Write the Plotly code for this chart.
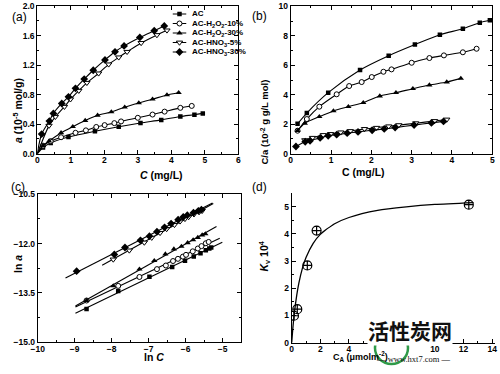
import numpy as np
import plotly.graph_objects as go

# ---------------- data ----------------
names = ["AC", "AC-H<sub>2</sub>O<sub>2</sub>-10%", "AC-H<sub>2</sub>O<sub>2</sub>-30%",
         "AC-HNO<sub>3</sub>-5%", "AC-HNO<sub>3</sub>-30%"]

# equilibrium concentration C (mg/L)
C_AC = [0.17, 0.40, 0.93, 1.72, 2.43, 3.08, 3.70, 4.27, 4.69, 4.94]
C_H10 = [0.17, 0.40, 0.71, 1.14, 1.45, 1.76, 2.01, 2.30, 2.50, 3.00, 3.44, 3.80, 4.27, 4.61]
C_H30 = [0.17, 0.35, 0.71, 1.06, 1.43, 1.80, 2.21, 2.61, 3.03, 3.44, 3.87, 4.22]
C_N5 = [0.35, 0.54, 0.81, 0.99, 1.24, 1.48, 1.83, 2.13, 2.43, 2.68, 3.10, 3.57, 3.87]
C_N30 = [0.13, 0.36, 0.48, 0.73, 0.93, 1.14, 1.40, 1.67, 2.02, 2.32, 2.59, 3.06, 3.49, 3.79]

# adsorbed amount a (1e-5 mol/g), panel (a)
a_AC = [0.084, 0.145, 0.225, 0.303, 0.365, 0.416, 0.458, 0.504, 0.528, 0.546]
a_H10 = [0.109, 0.170, 0.223, 0.283, 0.316, 0.362, 0.387, 0.414, 0.437, 0.486, 0.530, 0.570, 0.621, 0.647]
a_H30 = [0.109, 0.170, 0.283, 0.366, 0.448, 0.520, 0.565, 0.630, 0.687, 0.738, 0.796, 0.826]
a_N5 = [0.38, 0.50, 0.636, 0.737, 0.853, 0.96, 1.088, 1.21, 1.305, 1.38, 1.50, 1.607, 1.67]
a_N30 = [0.266, 0.442, 0.546, 0.68, 0.77, 0.885, 1.01, 1.13, 1.27, 1.38, 1.46, 1.575, 1.666, 1.73]

# C/a (1e-2 g g/L mol), panel (b)
Ca_AC = [2.03, 2.76, 4.14, 5.68, 6.65, 7.40, 8.07, 8.48, 8.89, 9.05]
Ca_H10 = [1.56, 2.35, 3.19, 4.03, 4.59, 4.86, 5.20, 5.56, 5.72, 6.17, 6.49, 6.67, 6.88, 7.12]
Ca_H30 = [1.56, 2.06, 2.51, 2.90, 3.19, 3.46, 3.91, 4.14, 4.41, 4.66, 4.86, 5.11]
Ca_N5 = [0.92, 1.08, 1.27, 1.34, 1.45, 1.54, 1.68, 1.76, 1.86, 1.94, 2.07, 2.22, 2.32]
Ca_N30 = [0.49, 0.81, 0.88, 1.07, 1.21, 1.29, 1.39, 1.48, 1.59, 1.68, 1.77, 1.94, 2.09, 2.19]

# panel (d)
CA_pts = [0.16, 0.39, 1.09, 1.74, 12.37]
Kv_pts = [0.99, 1.23, 2.84, 4.12, 5.07]
fit_CA = [0, 0.05, 0.1, 0.2, 0.35, 0.5, 0.75, 1.0, 1.5, 2, 3, 4, 6, 8, 10, 12.7]
fit_Kv = [0, 0.34, 0.65, 1.15, 1.74, 2.19, 2.74, 3.13, 3.65, 3.98, 4.37, 4.60, 4.86, 4.99, 5.08, 5.15]

C_all = [C_AC, C_H10, C_H30, C_N5, C_N30]
a_all = [a_AC, a_H10, a_H30, a_N5, a_N30]
Ca_all = [Ca_AC, Ca_H10, Ca_H30, Ca_N5, Ca_N30]
ORIGIN = [0.0]

# ---------------- styles ----------------
markers = [
    dict(symbol="square", size=4.5, color="black"),
    dict(symbol="circle", size=5, color="white", line=dict(color="black", width=1)),
    dict(symbol="triangle-up", size=5.5, color="black"),
    dict(symbol="triangle-down", size=5.5, color="white", line=dict(color="black", width=1)),
    dict(symbol="diamond", size=6, color="black"),
]
LW = 1.1

fig = go.Figure()

for i in range(5):
    C = np.array(C_all[i]); a = np.array(a_all[i]); Ca = np.array(Ca_all[i])
    # (a)
    fig.add_trace(go.Scatter(x=ORIGIN + list(C), y=ORIGIN + list(a), mode="lines",
                             line=dict(color="black", width=LW, shape="spline", smoothing=0.8),
                             xaxis="x", yaxis="y", showlegend=False, hoverinfo="skip"))
    fig.add_trace(go.Scatter(x=C, y=a, mode="markers", marker=markers[i],
                             xaxis="x", yaxis="y", showlegend=False))
    # (b)
    fig.add_trace(go.Scatter(x=C, y=Ca, mode="lines+markers", marker=markers[i],
                             line=dict(color="black", width=LW, shape="spline", smoothing=0.8),
                             xaxis="x2", yaxis="y2", showlegend=False))
    # (c)
    lnC = np.log(C * 1e-3)
    lna = np.log(a * 1e-5)
    k, b0 = np.polyfit(lnC, lna, 1)
    xl = np.array([lnC.min() - 0.3, lnC.max() + 0.3])
    fig.add_trace(go.Scatter(x=xl, y=k * xl + b0, mode="lines",
                             line=dict(color="black", width=LW),
                             xaxis="x3", yaxis="y3", showlegend=False, hoverinfo="skip"))
    fig.add_trace(go.Scatter(x=lnC, y=lna, mode="markers", marker=markers[i],
                             xaxis="x3", yaxis="y3", showlegend=False))
    # legend key
    mk = dict(markers[i]); mk["opacity"] = [0, 1, 0]
    fig.add_trace(go.Scatter(x=[0, 0.5, 1], y=[i, i, i], mode="lines+markers", marker=mk,
                             line=dict(color="black", width=LW), cliponaxis=False,
                             xaxis="x5", yaxis="y5", showlegend=False, hoverinfo="skip"))

# (d)
fig.add_trace(go.Scatter(x=fit_CA, y=fit_Kv, mode="lines",
                         line=dict(color="black", width=1.3, shape="spline", smoothing=0.6),
                         xaxis="x4", yaxis="y4", showlegend=False, hoverinfo="skip"))
fig.add_trace(go.Scatter(x=CA_pts, y=Kv_pts, mode="markers",
                         marker=dict(symbol="circle-cross-open", size=9, color="black", line=dict(width=1.2)),
                         xaxis="x4", yaxis="y4", showlegend=False))

TF = dict(family="Liberation Sans, Arial, sans-serif", size=8.5, color="black", weight="bold")
def ax(**kw):
    d = dict(showline=True, linecolor="black", linewidth=1, mirror="allticks", ticks="inside",
             ticklen=4, tickwidth=1, tickcolor="black", showgrid=False, zeroline=False,
             tickfont=TF, automargin=False, fixedrange=True)
    d.update(kw)
    return d

W, H = 500, 374
def dx(p0, p1): return [p0 / W, p1 / W]
def dy(p0, p1): return [1 - p1 / H, 1 - p0 / H]
XS = -2  # pull x tick labels closer to the axis

fig.update_layout(
    width=W, height=H, margin=dict(l=0, r=0, t=0, b=0),
    paper_bgcolor="white", plot_bgcolor="white",
    xaxis=ax(domain=dx(37.3, 238.3), range=[0, 6], dtick=1, anchor="y", ticklabelstandoff=XS,
             minor=dict(ticks="inside", ticklen=2, dtick=0.5, tickcolor="black")),
    yaxis=ax(domain=dy(6, 153.7), range=[0, 2], dtick=0.4, tickformat=".1f", anchor="x",
             minor=dict(ticks="inside", ticklen=2, dtick=0.2, tickcolor="black")),
    xaxis2=ax(domain=dx(290.7, 492.3), range=[0, 5], dtick=1, anchor="y2", ticklabelstandoff=XS,
              minor=dict(ticks="inside", ticklen=2, dtick=0.5, tickcolor="black")),
    yaxis2=ax(domain=dy(6.3, 153.7), range=[0, 10], dtick=2, anchor="x2",
              minor=dict(ticks="inside", ticklen=2, dtick=1, tickcolor="black")),
    xaxis3=ax(domain=dx(37.7, 241.2), range=[-10, -4.5], dtick=1, tick0=-10, anchor="y3",
              ticklabelstandoff=XS,
              minor=dict(ticks="inside", ticklen=2, dtick=0.5, tickcolor="black")),
    yaxis3=ax(domain=dy(194.3, 342.3), range=[-15, -10.5], dtick=1.5, tick0=-15, tickformat=".1f",
              anchor="x3", minor=dict(ticks="inside", ticklen=2, dtick=0.75, tickcolor="black")),
    xaxis4=ax(domain=dx(291.7, 495), range=[0, 14.2], dtick=2, anchor="y4", mirror=False,
              ticklabelstandoff=XS,
              minor=dict(ticks="inside", ticklen=2, dtick=1, tickcolor="black")),
    yaxis4=ax(domain=dy(193, 342.7), range=[0, 5.5], dtick=1, anchor="x4", mirror=False,
              minor=dict(ticks="inside", ticklen=2, dtick=0.5, tickcolor="black")),
    xaxis5=dict(domain=dx(172.5, 186.5), range=[0, 1], visible=False, anchor="y5", fixedrange=True),
    yaxis5=dict(domain=dy(10, 56), range=[4.42, -0.42], visible=False, anchor="x5", fixedrange=True),
)

TT = dict(family="Liberation Sans, Arial, sans-serif", size=10.5, color="black", weight="bold")
def ann(text, x, y, angle=0, font=TT, **kw):
    fig.add_annotation(text=text, x=x / W, y=1 - y / H, xref="paper", yref="paper",
                       showarrow=False, textangle=angle, font=font, **kw)

ann("<i>a</i> (10<sup>-5</sup> mol/g)", 9, 76, -90)
ann("<i>C</i> (mg/L)", 138, 175)
ann("C/a (10<sup>-2</sup> g g/L mol)", 265, 78, -90, font=dict(TT, size=9.5))
ann("C (mg/L)", 387, 172)
ann("ln <i>a</i>", 10, 275, -90)
ann("ln <i>C</i>", 142, 365)
ann("<i>K</i><sub>v</sub> 10<sup>4</sup>", 264, 274, -90)
ann("C<sub>A</sub> (μmolm<sup>-2</sup>)", 390, 365, font=dict(TT, size=9))

PL = dict(family="Liberation Sans, Arial, sans-serif", size=12, color="black")
ann("(a)", 10, 8, font=PL)
ann("(b)", 259, 7, font=PL)
ann("(c)", 9, 187, font=PL)
ann("(d)", 259, 187, font=PL)

# legend labels
LF = dict(family="Liberation Sans, Arial, sans-serif", size=8, color="black", weight="bold")
for i, n in enumerate(names):
    fig.add_annotation(text=n, x=189.5 / W, y=i, xref="paper", yref="y5", xanchor="left",
                       showarrow=False, font=LF)

# watermark
fig.add_shape(type="circle", xref="paper", yref="paper",
              x0=375 / W, x1=408 / W, y0=1 - 364 / H, y1=1 - 332 / H,
              line=dict(color="#2e9a48", width=2.5), fillcolor="white")
fig.add_annotation(text="活性炭网", x=453 / W, y=1 - 346 / H, xref="paper", yref="paper",
                   showarrow=False, bgcolor="white", borderpad=0,
                   font=dict(family="Noto Sans CJK SC", size=21, color="#111111", weight="bold"))
fig.add_annotation(text="— www.hxt7.com —", x=453 / W, y=1 - 365.5 / H, xref="paper", yref="paper",
                   showarrow=False,
                   font=dict(family="Liberation Serif, serif", size=8.5, color="#111111"))

fig.write_html("out.html", config={"displayModeBar": False},
               post_script="document.body.style.margin='0';document.body.style.padding='0';"
                           "document.body.style.overflow='hidden';")
